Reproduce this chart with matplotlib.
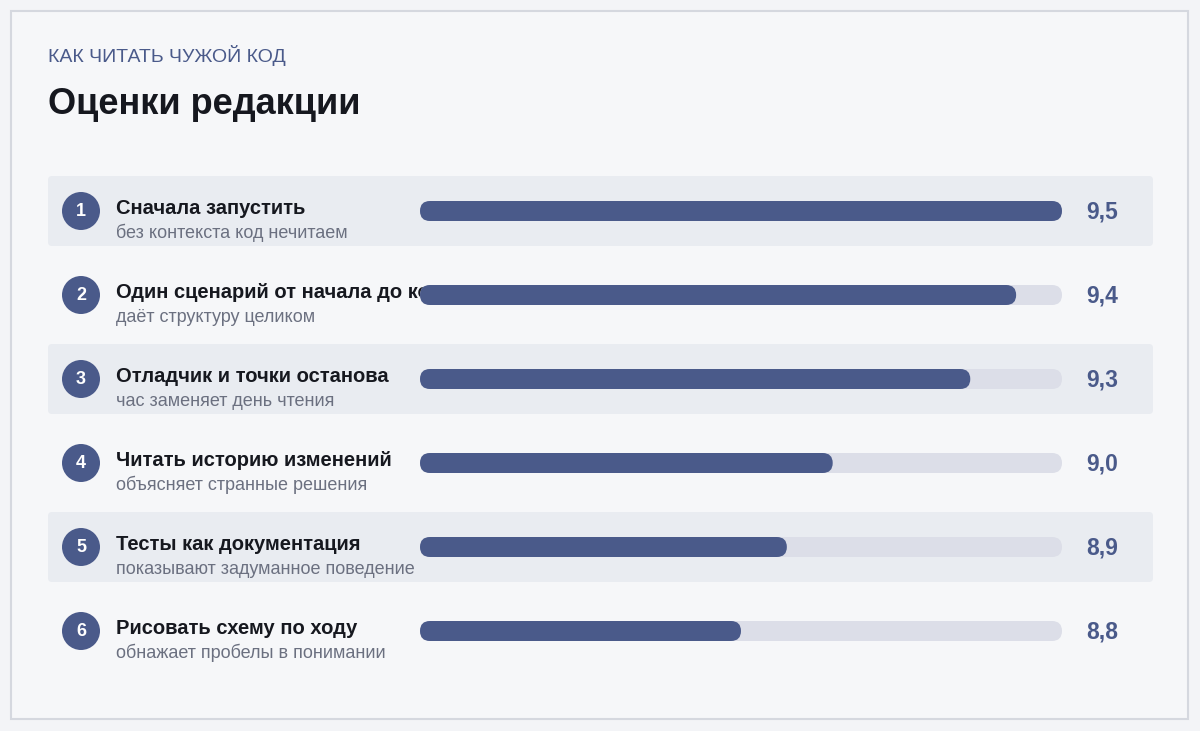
import matplotlib
matplotlib.use("Agg")
import matplotlib.pyplot as plt
from matplotlib.patches import FancyBboxPatch, Circle, Rectangle

# data
kicker = "КАК ЧИТАТЬ ЧУЖОЙ КОД"
title = "Оценки редакции"
labels = ["Сначала запустить", "Один сценарий от начала до конца",
          "Отладчик и точки останова", "Читать историю изменений",
          "Тесты как документация", "Рисовать схему по ходу"]
notes = ["без контекста код нечитаем", "даёт структуру целиком",
         "час заменяет день чтения", "объясняет странные решения",
         "показывают задуманное поведение", "обнажает пробелы в понимании"]
scores = [9.5, 9.4, 9.3, 9.0, 8.9, 8.8]
score_min, score_max = 8.1, 9.5

# colours
navy = "#4a5a8a"
track = "#dcdee8"
band = "#e9ecf1"
inner_bg = "#f6f7f9"
outer_bg = "#f3f4f7"

W, H = 1200, 731
fig = plt.figure(figsize=(W / 100, H / 100), dpi=100)
fig.patch.set_facecolor(outer_bg)

# background axes in pixel units
bg = fig.add_axes([0, 0, 1, 1])
bg.set_xlim(0, W); bg.set_ylim(H, 0); bg.axis("off")
bg.add_patch(Rectangle((11, 11), 1177, 708, facecolor=inner_bg,
                       edgecolor="#d5d8df", lw=1.5))

font = ["Liberation Sans", "DejaVu Sans"]

bg.text(48, 55, kicker, fontsize=14, color=navy, family=font,
        va="center", ha="left")
bg.text(48, 105, title, fontsize=26, color="#16181f", family=font,
        weight="bold", va="center", ha="left")

row0, step = 211, 84
for i, (lab, note) in enumerate(zip(labels, notes)):
    yc = row0 + step * i
    if i % 2 == 0:
        bg.add_patch(FancyBboxPatch((48, yc - 35), 1105, 70,
                                    boxstyle="round,pad=0,rounding_size=4",
                                    facecolor=band, edgecolor="none"))
    bg.add_patch(Circle((81, yc), 19, facecolor=navy, edgecolor="none"))
    bg.text(81, yc + 1, str(i + 1), fontsize=13, color="white", weight="bold",
            family=font, ha="center", va="center")
    bg.text(116, yc - 2, lab, fontsize=14.5, color="#16181f", weight="bold",
            family=font, ha="left", va="center")
    bg.text(116, yc + 22, note, fontsize=13, color="#6b7080",
            family=font, ha="left", va="center")
    bg.text(1086, yc + 1, f"{scores[i]:.1f}".replace(".", ","), fontsize=16.5,
            color=navy, weight="bold", family=font, ha="left", va="center")

# bar axes on the value scale
x0, x1 = 420, 1062
top = row0 - step / 2
bar_ax = fig.add_axes([x0 / W, 1 - (top + step * len(scores)) / H,
                       (x1 - x0) / W, step * len(scores) / H])
bar_ax.set_xlim(score_min, score_max)
bar_ax.set_ylim(len(scores) - 0.5, -0.5)
bar_ax.axis("off")
bar_ax.patch.set_alpha(0)

xu = (score_max - score_min) / (x1 - x0)   # value units per pixel
yu = 1 / step                               # row units per pixel
h = 20 * yu
r = 10 * xu
asp = yu / xu
for i, s in enumerate(scores):
    bar_ax.add_patch(FancyBboxPatch((score_min, i - h / 2), score_max - score_min, h,
                                    boxstyle=f"round,pad=0,rounding_size={r}",
                                    mutation_aspect=asp, facecolor=track,
                                    edgecolor="none"))
    bar_ax.add_patch(FancyBboxPatch((score_min, i - h / 2), s - score_min, h,
                                    boxstyle=f"round,pad=0,rounding_size={r}",
                                    mutation_aspect=asp, facecolor=navy,
                                    edgecolor="none"))

fig.savefig("out.png", dpi=100, facecolor=fig.get_facecolor())
